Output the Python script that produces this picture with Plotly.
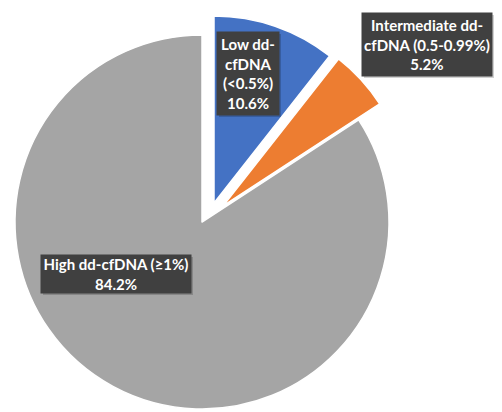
import plotly.graph_objects as go

# Share of patients by donor-derived cell-free DNA level
categories = ["Low dd-cfDNA (<0.5%)", "Intermediate dd-cfDNA (0.5-0.99%)", "High dd-cfDNA (≥1%)"]
label_lines = [["Low dd-", "cfDNA", "(<0.5%)"],
               ["Intermediate dd-", "cfDNA (0.5-0.99%)"],
               ["High dd-cfDNA (≥1%)"]]
values = [10.6, 5.2, 84.2]
colors = ["#4472C4", "#ED7D31", "#A5A5A5"]

W, H = 502, 412
R = 187  # pie radius in px
# slice centres in px (exploded slices are shifted outwards)
centres = [(214, 203), (223, 206), (202, 222)]
# label box centre and size in px
boxes = [((248, 73.5), (62, 83)), ((427, 44.5), (130, 63)), ((116, 274), (150, 38))]


def px_domain(cx, cy, r):
    return dict(x=[(cx - r) / W, (cx + r) / W], y=[1 - (cy + r) / H, 1 - (cy - r) / H])


fig = go.Figure()
# draw the big slice first, then the exploded ones on top
for i in [2, 0, 1]:
    cols = ["rgba(0,0,0,0)"] * len(values)
    cols[i] = colors[i]
    lcols = ["rgba(0,0,0,0)"] * len(values)
    lcols[i] = "#ffffff"
    fig.add_trace(go.Pie(
        labels=categories, values=values, sort=False, direction="clockwise", rotation=0,
        marker=dict(colors=cols, line=dict(color=lcols, width=1.5)),
        textinfo="none", hoverinfo="skip", showlegend=False,
        domain=px_domain(*centres[i], R),
    ))

for i, ((bx, by), (bw, bh)) in enumerate(boxes):
    text = "<br>".join(label_lines[i] + [f"{values[i]:.1f}%"])
    # soft drop shadow behind the label box
    fig.add_shape(type="rect", xref="paper", yref="paper",
                  x0=(bx - bw / 2 + 2) / W, x1=(bx + bw / 2 + 2) / W,
                  y0=1 - (by + bh / 2 + 2) / H, y1=1 - (by - bh / 2 + 2) / H,
                  fillcolor="rgba(0,0,0,0.18)", line=dict(width=0), layer="above")
    fig.add_annotation(x=bx / W, y=1 - by / H, xref="paper", yref="paper",
                       xanchor="center", yanchor="middle", text=text, showarrow=False,
                       width=bw, height=bh, borderpad=0, bgcolor="#404040",
                       align="center", valign="middle",
                       font=dict(family="Lato", size=15, color="#ffffff", weight="bold"))

fig.update_layout(width=W, height=H, margin=dict(l=0, r=0, t=0, b=0),
                  paper_bgcolor="#ffffff", plot_bgcolor="#ffffff")
fig.write_html("out.html")
